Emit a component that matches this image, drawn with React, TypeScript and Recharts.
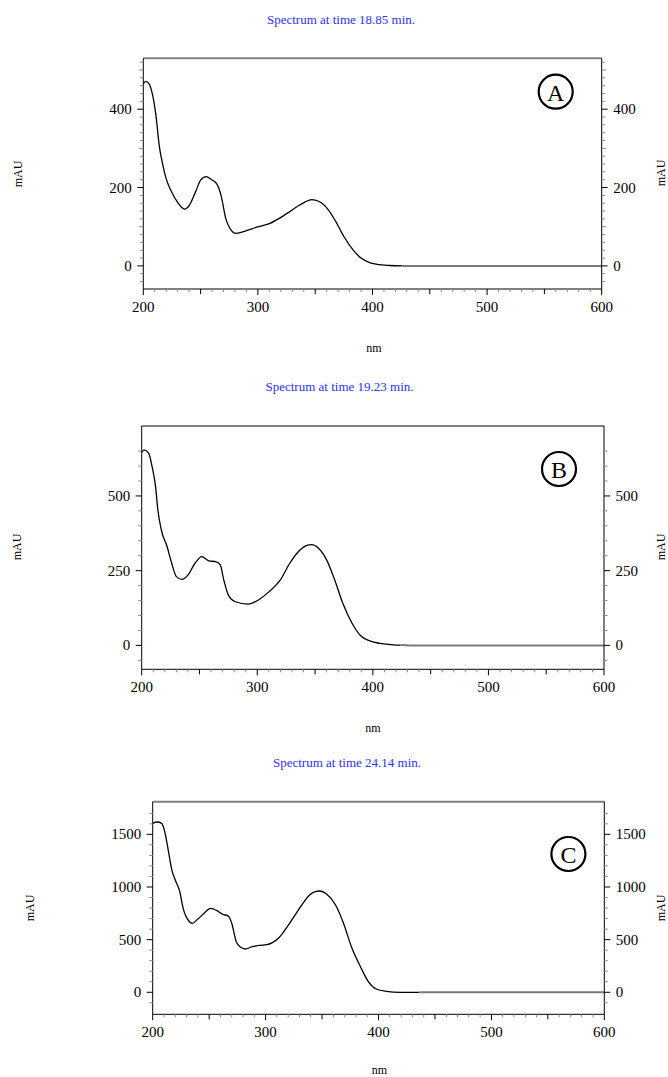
import React from "react";
import { LineChart, Line, XAxis, YAxis, ReferenceLine } from "recharts";

// wavelength (nm) and absorbance (mAU)
const nmA = [200, 202, 205, 208, 211, 214, 217, 220, 224, 230, 236, 240, 246, 250, 255, 259, 264, 268, 272, 276, 281, 290, 299, 310, 319, 328, 335, 341, 347, 353, 361, 368, 375, 383, 390, 397, 404, 415, 426, 450, 500, 550, 600];
const mauA = [464, 471, 465, 438, 385, 305, 258, 222, 193, 162, 145, 154, 192, 219, 228, 221, 210, 178, 120, 94, 83, 90, 99, 108, 122, 139, 153, 163, 169, 165, 145, 113, 75, 41, 20, 9, 4, 1, 0, 0, 0, 0, 0];

const nmB = [200, 202, 206, 209, 212, 214, 217, 222, 226, 230, 235, 240, 246, 252, 258, 264, 268, 271, 275, 281, 292, 301, 310, 320, 328, 337, 343, 347, 353, 360, 367, 374, 382, 389, 398, 406, 418, 424, 432, 450, 500, 550, 600];
const mauB = [645, 654, 643, 598, 531, 453, 386, 330, 274, 230, 221, 235, 274, 297, 283, 280, 269, 219, 168, 146, 138, 152, 179, 219, 274, 319, 335, 337, 325, 286, 219, 141, 74, 34, 14, 7, 2, 1, 0, 0, 0, 0, 0];

const nmC = [200, 204, 208, 211, 214, 217, 220, 224, 227, 232, 235, 240, 246, 251, 257, 262, 267, 270, 274, 278, 282, 288, 294, 301, 306, 312, 318, 324, 331, 339, 344, 348, 354, 362, 369, 376, 384, 391, 398, 407, 419, 436, 450, 500, 550, 600];
const mauC = [1604, 1617, 1604, 1510, 1335, 1161, 1066, 955, 797, 677, 655, 696, 756, 797, 775, 741, 724, 655, 481, 427, 411, 433, 446, 452, 472, 520, 605, 700, 813, 924, 955, 962, 933, 829, 655, 433, 243, 101, 31, 9, 0, 0, 0, 0, 0, 0];

const titles = ["Spectrum at time 18.85 min.", "Spectrum at time 19.23 min.", "Spectrum at time 24.14 min."];
const letters = ["A", "B", "C"];

const xTicks = Array.from({ length: 41 }, (_, i) => 200 + i * 10);
const yTicksA = Array.from({ length: 29 }, (_, i) => -40 + i * 20);
const yTicksB = Array.from({ length: 15 }, (_, i) => -50 + i * 50);
const yTicksC = Array.from({ length: 19 }, (_, i) => -100 + i * 100);

const FONT = "'Liberation Serif', 'DejaVu Serif', serif";

const panels = [
  { nm: nmA, mau: mauA, tailFrom: 426, domain: [-59, 530], ticks: yTicksA, major: 200, mid: 100,
    bandTop: 0, bandH: 370, left: 143.3, right: 601.7, top: 58.3, bottom: 289,
    title: [341, 19], unit: [374, 348], mauL: [18, 174], mauR: [661, 173], circle: [555.7, 91.7] },
  { nm: nmB, mau: mauB, tailFrom: 424, domain: [-80, 734], ticks: yTicksB, major: 250, mid: 0,
    bandTop: 370, bandH: 375, left: 141.7, right: 604, top: 426, bottom: 669.3,
    title: [339.5, 386], unit: [373, 728], mauL: [16.5, 547], mauR: [661, 547], circle: [559, 469] },
  { nm: nmC, mau: mauC, tailFrom: 436, domain: [-209, 1810], ticks: yTicksC, major: 500, mid: 0,
    bandTop: 745, bandH: 332, left: 152.7, right: 604.3, top: 801.7, bottom: 1014.3,
    title: [347, 762], unit: [379.5, 1070], mauL: [30, 908], mauR: [661, 908], circle: [568.4, 854] },
];

const yTick = (side: "left" | "right", major: number, mid: number) => (p: any) => {
  const v = p.payload.value;
  const isMajor = v % major === 0;
  const isMid = mid > 0 && v % mid === 0;
  const len = isMajor ? 6 : isMid ? 4.5 : 3.5;
  const d = side === "left" ? -1 : 1;
  return (
    <g>
      <line x1={p.x} x2={p.x + d * len} y1={p.y} y2={p.y} stroke={isMajor ? "#000" : "#8a8a8a"} strokeWidth={1} />
      {isMajor && (
        <text x={p.x + d * 11.5} y={p.y} textAnchor={side === "left" ? "end" : "start"} dominantBaseline="central"
          fontFamily={FONT} fontSize={15} fill="#000">{v}</text>
      )}
    </g>
  );
};

const xTick = (p: any) => {
  const v = p.payload.value;
  const isMajor = v % 100 === 0;
  const isMid = v % 50 === 0;
  const len = isMajor ? 6 : isMid ? 5 : 3;
  return (
    <g>
      <line x1={p.x} x2={p.x} y1={p.y} y2={p.y + len} stroke={isMajor || isMid ? "#000" : "#8a8a8a"} strokeWidth={1} />
      {isMajor && (
        <text x={p.x} y={p.y + 18} textAnchor="middle" dominantBaseline="central" fontFamily={FONT} fontSize={15} fill="#000">{v}</text>
      )}
    </g>
  );
};

function Panel({ cfg }: { cfg: (typeof panels)[number] }) {
  const data = cfg.nm.map((n, i) => ({
    nm: n,
    main: n <= cfg.tailFrom ? cfg.mau[i] : null,
    tail: n >= cfg.tailFrom ? cfg.mau[i] : null,
  }));
  const margin = {
    left: cfg.left - 40,
    right: 668 - cfg.right - 40,
    top: cfg.top - cfg.bandTop,
    bottom: cfg.bandTop + cfg.bandH - cfg.bottom - 30,
  };
  return (
    <div style={{ position: "absolute", left: 0, top: cfg.bandTop }}>
      <LineChart width={668} height={cfg.bandH} data={data} margin={margin}>
        <XAxis dataKey="nm" type="number" domain={[200, 600]} ticks={xTicks} interval={0} allowDataOverflow
          height={30} tickSize={0} tickMargin={0} tickLine={false} axisLine={{ stroke: "#000" }} tick={xTick} />
        <YAxis yAxisId="l" domain={cfg.domain} ticks={cfg.ticks} interval={0} allowDataOverflow width={40}
          tickSize={0} tickMargin={0} tickLine={false} axisLine={{ stroke: "#000" }} tick={yTick("left", cfg.major, cfg.mid)} />
        <YAxis yAxisId="r" orientation="right" domain={cfg.domain} ticks={cfg.ticks} interval={0} allowDataOverflow width={40}
          tickSize={0} tickMargin={0} tickLine={false} axisLine={{ stroke: "#000" }} tick={yTick("right", cfg.major, cfg.mid)} />
        <ReferenceLine yAxisId="l" y={cfg.domain[1]} stroke="#808080" strokeWidth={2} />
        <Line yAxisId="l" type="monotone" dataKey="main" stroke="#000" strokeWidth={1.3} dot={false} isAnimationActive={false} connectNulls={false} />
        <Line yAxisId="l" type="monotone" dataKey="tail" stroke="#7a7a7a" strokeWidth={2} dot={false} isAnimationActive={false} connectNulls={false} />
      </LineChart>
    </div>
  );
}

export default function App() {
  return (
    <div style={{ position: "absolute", left: 0, top: 0, width: 668, height: 1077, background: "#fff" }}>
      {panels.map((p, i) => (
        <Panel key={i} cfg={p} />
      ))}
      <svg width={668} height={1077} style={{ position: "absolute", left: 0, top: 0, pointerEvents: "none" }}>
        {panels.map((p, i) => (
          <g key={i} fontFamily={FONT}>
            <text x={p.title[0]} y={p.title[1]} textAnchor="middle" dominantBaseline="central" fontSize={13} fill="#3030ff">{titles[i]}</text>
            <text x={p.unit[0]} y={p.unit[1]} textAnchor="middle" dominantBaseline="central" fontSize={12} fill="#000">nm</text>
            <text x={p.mauL[0]} y={p.mauL[1]} textAnchor="middle" dominantBaseline="central" fontSize={12} fill="#000"
              transform={`rotate(-90 ${p.mauL[0]} ${p.mauL[1]})`}>mAU</text>
            <text x={p.mauR[0]} y={p.mauR[1]} textAnchor="middle" dominantBaseline="central" fontSize={12} fill="#000"
              transform={`rotate(-90 ${p.mauR[0]} ${p.mauR[1]})`}>mAU</text>
            <circle cx={p.circle[0]} cy={p.circle[1]} r={17} fill="none" stroke="#000" strokeWidth={2.2} />
            <text x={p.circle[0]} y={p.circle[1] + 1} textAnchor="middle" dominantBaseline="central" fontSize={24} fill="#000">{letters[i]}</text>
          </g>
        ))}
      </svg>
    </div>
  );
}
